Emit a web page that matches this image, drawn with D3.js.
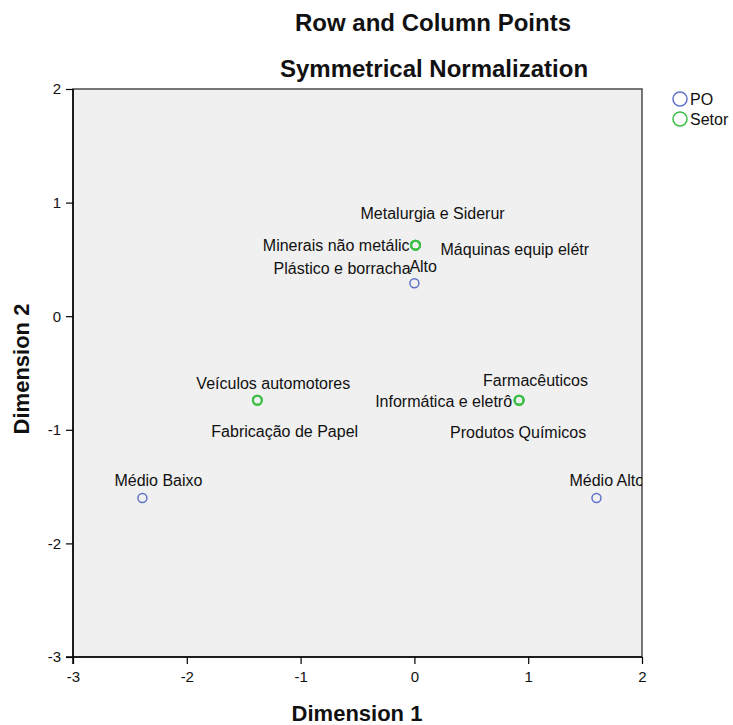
<!DOCTYPE html>
<html>
	<head>
		<title>Row and Column Points</title>
		<meta charset="utf-8">
	</head>
	<body>
		<svg id="chart" width="733" height="725"></svg>
	</body>

	<script src="https://cdnjs.cloudflare.com/ajax/libs/d3/7.8.5/d3.min.js"></script>
	<script>
		// row points (PO) and column points (Setor)
		const poNames = ["Alto", "Médio Baixo", "Médio Alto"];
		const poDim1  = [0.00, -2.39, 1.60];
		const poDim2  = [0.29, -1.60, -1.60];

		const setorNames = ["Metalurgia e Siderur", "Minerais não metálic", "Máquinas equip elétr",
			"Plástico e borracha", "Veículos automotores", "Fabricação de Papel",
			"Farmacêuticos", "Informática e eletrô", "Produtos Químicos"];
		const setorDim1 = [0.01, 0.01, 0.01, 0.01, -1.38, -1.38, 0.92, 0.92, 0.92];
		const setorDim2 = [0.625, 0.625, 0.625, 0.625, -0.74, -0.74, -0.74, -0.74, -0.74];

		const xTicks = [-3, -2, -1, 0, 1, 2];
		const yTicks = [-3, -2, -1, 0, 1, 2];

		// label placement around each point (pixels), same order as names
		const poLabelPos = [
			{dx: -5, dy: -17, anchor: "start"},
			{dx: -28, dy: -17, anchor: "start"},
			{dx: -27, dy: -17, anchor: "start"}
		];
		const setorLabelPos = [
			{dx: -55, dy: -32, anchor: "start"},
			{dx: -6, dy: 0, anchor: "end"},
			{dx: 25, dy: 4, anchor: "start"},
			{dx: -5, dy: 23, anchor: "end"},
			{dx: -61, dy: -17, anchor: "start"},
			{dx: -46, dy: 31, anchor: "start"},
			{dx: -36, dy: -20, anchor: "start"},
			{dx: -7, dy: 1, anchor: "end"},
			{dx: -69, dy: 32, anchor: "start"}
		];

		const blue = "#5f73c8", green = "#3cbf45";
		const plot = {left: 73, top: 89, right: 642, bottom: 657};

		const x = d3.scaleLinear().domain([-3, 2]).range([plot.left, plot.right]);
		const y = d3.scaleLinear().domain([-3, 2]).range([plot.bottom, plot.top]);

		const svg = d3.select("#chart");

		svg.append("rect").attr("width", 733).attr("height", 725).attr("fill", "#fff");

		svg.append("clipPath").attr("id", "clip")
			.append("rect")
				.attr("x", plot.left).attr("y", plot.top)
				.attr("width", plot.right - plot.left).attr("height", plot.bottom - plot.top);

		svg.append("rect")
			.attr("x", plot.left).attr("y", plot.top)
			.attr("width", plot.right - plot.left).attr("height", plot.bottom - plot.top)
			.attr("fill", "#f0f0f0")
			.attr("stroke", "#555")
			.attr("stroke-width", 1.6);

		// axes (plain hyphen for negatives, like the original)
		const fmt = d => String(d);

		svg.append("g")
			.attr("class", "axis")
			.attr("transform", `translate(0,${plot.bottom})`)
			.call(d3.axisBottom(x).tickValues(xTicks).tickSize(7).tickPadding(7).tickFormat(fmt));

		svg.append("g")
			.attr("class", "axis")
			.attr("transform", `translate(${plot.left},0)`)
			.call(d3.axisLeft(y).tickValues(yTicks).tickSize(7).tickPadding(5).tickFormat(fmt));

		svg.selectAll(".axis .domain").remove();
		svg.append("line").attr("x1", plot.left).attr("x2", plot.left)
			.attr("y1", plot.top).attr("y2", plot.bottom + 7).attr("stroke", "#000").attr("stroke-width", 1.5);
		svg.append("line").attr("x1", plot.left - 7).attr("x2", plot.right)
			.attr("y1", plot.bottom).attr("y2", plot.bottom).attr("stroke", "#000").attr("stroke-width", 1.5);

		svg.selectAll(".axis text")
			.attr("font-family", "Liberation Sans, Arial")
			.attr("font-size", 15)
			.attr("fill", "#111");
		svg.selectAll(".axis line").attr("stroke", "#000").attr("stroke-width", 1.2);

		// points and labels
		const g = svg.append("g").attr("clip-path", "url(#clip)");

		const poData = poNames.map((n, i) => ({name: n, d1: poDim1[i], d2: poDim2[i], lp: poLabelPos[i], color: blue}));
		const setorData = setorNames.map((n, i) => ({name: n, d1: setorDim1[i], d2: setorDim2[i], lp: setorLabelPos[i], color: green}));
		const all = poData.concat(setorData);

		g.selectAll(".pt")
			.data(all)
			.enter().append("circle")
				.attr("class", "pt")
				.attr("cx", d => x(d.d1))
				.attr("cy", d => y(d.d2))
				.attr("r", 4.5)
				.attr("fill", "none")
				.attr("stroke", d => d.color)
				.attr("stroke-width", d => d.color === green ? 2 : 1.5);

		g.selectAll(".lbl")
			.data(all)
			.enter().append("text")
				.attr("class", "lbl")
				.attr("x", d => x(d.d1) + d.lp.dx)
				.attr("y", d => y(d.d2) + d.lp.dy)
				.attr("text-anchor", d => d.lp.anchor)
				.attr("dominant-baseline", "central")
				.text(d => d.name);

		// titles
		svg.append("text").attr("class", "title").attr("x", 433).attr("y", 31).text("Row and Column Points");
		svg.append("text").attr("class", "title").attr("x", 434).attr("y", 77).text("Symmetrical Normalization");
		svg.append("text").attr("class", "axis-title").attr("x", 357).attr("y", 721).text("Dimension 1");
		svg.append("text").attr("class", "axis-title")
			.attr("transform", "translate(29,369) rotate(-90)")
			.text("Dimension 2");

		// legend
		const legend = svg.append("g").attr("transform", "translate(680,99)");
		[["PO", blue], ["Setor", green]].forEach((item, i) => {
			legend.append("circle").attr("cx", 0).attr("cy", i * 20).attr("r", 7)
				.attr("fill", "none").attr("stroke", item[1]).attr("stroke-width", 1.5);
			legend.append("text").attr("class", "legend").attr("x", 10).attr("y", i * 20)
				.attr("dominant-baseline", "central").text(item[0]);
		});
	</script>

	<style>
		body
		{
			margin: 0;
			overflow: hidden;
		}

		.lbl, .legend
		{
			font-family: "Liberation Sans", Arial, sans-serif;
			font-size: 16px;
			fill: #111;
		}

		.title, .axis-title
		{
			font-family: "Liberation Sans", Arial, sans-serif;
			font-weight: bold;
			font-size: 24px;
			text-anchor: middle;
			fill: #111;
		}

		.axis-title
		{
			font-size: 22px;
		}
	</style>
</html>
